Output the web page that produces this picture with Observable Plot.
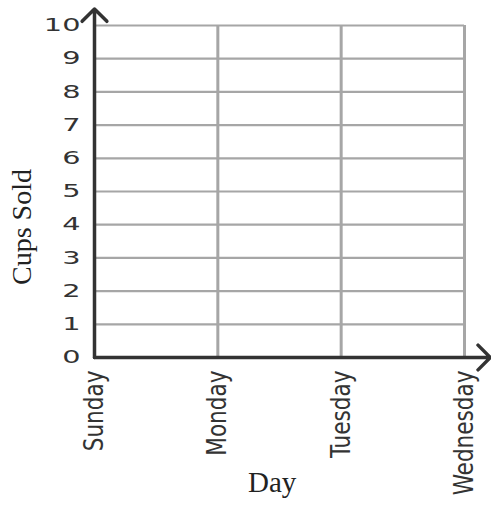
<!DOCTYPE html>
<html>
<head>
<meta charset="utf-8">
<script src="https://cdn.jsdelivr.net/npm/d3@7"></script>
<script src="https://cdn.jsdelivr.net/npm/@observablehq/plot@0.6"></script>
<style>
  html, body { margin: 0; padding: 0; background: #fff; }
  #chart { position: relative; width: 491px; height: 508px; }
  .ytitle { position: absolute; left: 0; top: 0; font-family: "Liberation Serif", "Times New Roman", serif; font-size: 28px; color: #222;
            transform-origin: 0 0; transform: translate(8px, 285px) rotate(-90deg); white-space: nowrap; line-height: 1; }
  .xtitle { position: absolute; left: 0; top: 0; text-align: left; font-family: "Liberation Serif", "Times New Roman", serif; font-size: 29px; color: #222; white-space: nowrap; }
</style>
</head>
<body>
<div id="chart"></div>
<script>
const days = ["Sunday", "Monday", "Tuesday", "Wednesday"];
const dayIndex = [0, 1, 2, 3];
const cupTicks = [0, 1, 2, 3, 4, 5, 6, 7, 8, 9, 10];
const gridCups = [1, 2, 3, 4, 5, 6, 7, 8, 9, 10];
const gridDays = [1, 2, 3];
const yTitle = "Cups Sold";
const xTitle = "Day";

const plot = Plot.plot({
  width: 491,
  height: 508,
  marginLeft: 94,
  marginRight: 27,
  marginTop: 25,
  marginBottom: 151,
  style: { background: "white", overflow: "visible" },
  x: { type: "linear", domain: [0, 3], ticks: dayIndex, tickFormat: i => days[i] },
  y: { domain: [0, 10], ticks: cupTicks },
  marks: [
    Plot.ruleY(gridCups, { x1: 0, x2: 3, stroke: "#a6a6a6", strokeWidth: 2.2 }),
    Plot.ruleX(gridDays, { y1: 0, y2: 10, stroke: "#a6a6a6", strokeWidth: 3 }),
    Plot.arrow([0], { x1: 0, y1: 0, x2: 0, y2: 10.5, stroke: "#333", strokeWidth: 3.5, headLength: 7.5, headAngle: 90 }),
    Plot.arrow([0], { x1: 0, y1: 0, x2: 3.21, y2: 0, stroke: "#333", strokeWidth: 3.5, headLength: 7.5, headAngle: 90 }),
    Plot.axisY({ ticks: cupTicks, tickSize: 0, tickPadding: 14, label: null,
      fontSize: 18, fontFamily: "DejaVu Sans", fill: "#333" }),
    Plot.axisX({ ticks: dayIndex, tickFormat: i => days[i], tickSize: 0, tickPadding: 13, tickRotate: -90, label: null,
      fontSize: 24, fontFamily: "Liberation Sans Narrow, DejaVu Sans Condensed, DejaVu Sans", fill: "#333" })
  ]
});

const chart = document.getElementById("chart");
chart.appendChild(plot);

// widen y tick labels (the reference uses a wide, extended face), keeping the right edge fixed
d3.select(plot).selectAll('g[aria-label="y-axis tick label"] text').each(function() {
  const el = d3.select(this);
  const t = el.attr("transform") || "";
  const b = this.getBBox();
  const r = b.x + b.width;
  el.attr("transform", `${t} translate(${r},0) scale(1.6,1) translate(${-r},0)`);
});
// make the narrow day labels a little taller, as in the reference
d3.select(plot).selectAll('g[aria-label="x-axis tick label"] text').each(function() {
  const el = d3.select(this);
  const t = el.attr("transform") || "";
  el.attr("transform", `${t} scale(1,1.12)`);
});

const yt = document.createElement("div");
yt.className = "ytitle";
yt.textContent = yTitle;
chart.appendChild(yt);

const xt = document.createElement("div");
xt.className = "xtitle";
xt.textContent = xTitle;
xt.style.left = "248px";
xt.style.top = "466px";
chart.appendChild(xt);
</script>
</body>
</html>
